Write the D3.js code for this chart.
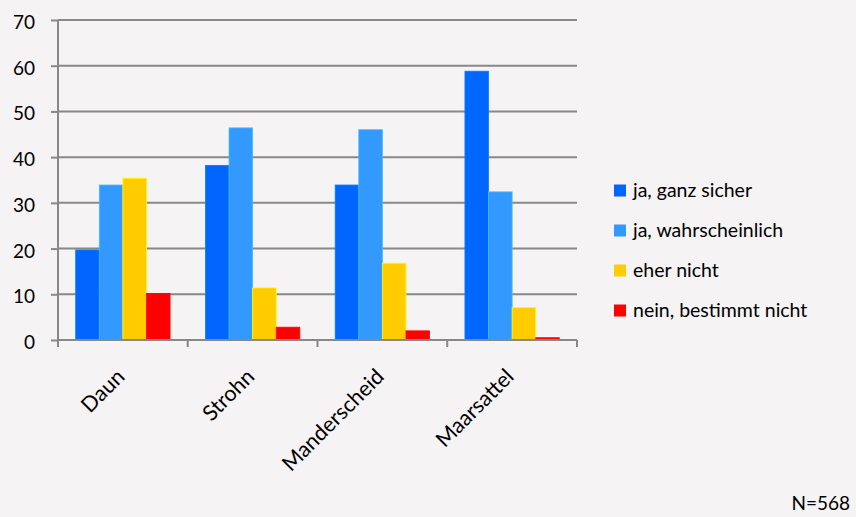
<!DOCTYPE html>
<html>
<head>
<meta charset="utf-8">
<script src="https://cdn.jsdelivr.net/npm/d3@7"></script>
<style>
html,body{margin:0;padding:0;background:#f5f3f4;}
svg{display:block;}
text{font-family:Lato,"Open Sans","DejaVu Sans",sans-serif;fill:#000;}
</style>
</head>
<body>
<svg id="chart" width="856" height="517"></svg>
<script>
const categories = ["Daun", "Strohn", "Manderscheid", "Maarsattel"];
const seriesNames = ["ja, ganz sicher", "ja, wahrscheinlich", "eher nicht", "nein, bestimmt nicht"];
const jaGanzSicher = [19.7, 38.2, 33.9, 58.8];
const jaWahrscheinlich = [33.9, 46.4, 46.0, 32.4];
const eherNicht = [35.4, 11.4, 16.8, 7.1];
const neinBestimmtNicht = [10.2, 2.8, 2.0, 0.5];
const yTicks = [0, 10, 20, 30, 40, 50, 60, 70];
const colors = ["#0066ff", "#3399ff", "#ffcc00", "#ff0000"];
const footnote = "N=568";

(function () {
const series = [jaGanzSicher, jaWahrscheinlich, eherNicht, neinBestimmtNicht];

const svg = d3.select("#chart");
const W = 856, H = 517;
svg.append("rect").attr("width", W).attr("height", H).attr("fill", "#f5f3f4");

const pLeft = 58, pRight = 577, pTop = 20, pBottom = 340;
const x = d3.scaleBand().domain(categories).range([pLeft, pRight]).paddingInner(0).paddingOuter(0);
const x1 = d3.scaleBand().domain(d3.range(series.length)).range([0, x.bandwidth()]).paddingInner(0).paddingOuter(0.75);
const y = d3.scaleLinear().domain([0, 70]).range([pBottom, pTop]);

const gridColor = "#888888";
svg.append("g").selectAll("line").data(yTicks.filter(d => d > 0)).join("line")
  .attr("x1", pLeft).attr("x2", pRight)
  .attr("y1", d => y(d)).attr("y2", d => y(d))
  .attr("stroke", gridColor).attr("stroke-width", 2);

const groups = svg.append("g").selectAll("g").data(categories).join("g")
  .attr("transform", c => `translate(${x(c)},0)`);
groups.selectAll("rect").data((c, i) => series.map((s, j) => ({ j, v: s[i] }))).join("rect")
  .attr("x", d => x1(d.j))
  .attr("width", x1.bandwidth())
  .attr("y", d => y(d.v))
  .attr("height", d => y(0) - y(d.v))
  .attr("fill", d => colors[d.j])
  .attr("stroke", d => d3.color(colors[d.j]).brighter(0.6))
  .attr("stroke-width", 0.8);

const yAxis = d3.axisLeft(y).tickValues(yTicks).tickSize(7).tickPadding(16);
const gy = svg.append("g").attr("transform", `translate(${pLeft},0)`).call(yAxis);
gy.select(".domain").remove();
gy.selectAll(".tick line").attr("stroke", gridColor).attr("stroke-width", 2);
gy.selectAll(".tick text").attr("font-size", 19).attr("fill", "#000").attr("dy", "0.45em");
svg.append("line").attr("x1", pLeft).attr("x2", pLeft).attr("y1", pTop).attr("y2", pBottom + 7)
  .attr("stroke", gridColor).attr("stroke-width", 2);

svg.append("line").attr("x1", pLeft).attr("x2", pRight).attr("y1", pBottom).attr("y2", pBottom)
  .attr("stroke", gridColor).attr("stroke-width", 2);
const bounds = categories.map(c => x(c)).concat([pRight]);
svg.append("g").selectAll("line").data(bounds).join("line")
  .attr("x1", d => d).attr("x2", d => d).attr("y1", pBottom).attr("y2", pBottom + 7)
  .attr("stroke", gridColor).attr("stroke-width", 2);

svg.append("g").selectAll("text").data(categories).join("text")
  .attr("transform", c => `translate(${x(c) + x.bandwidth() / 2 + 3},${pBottom + 38}) rotate(-45)`)
  .attr("text-anchor", "end")
  .attr("font-size", 21.5)
  .text(c => c);

const lg = svg.append("g").selectAll("g").data(seriesNames).join("g")
  .attr("transform", (d, i) => `translate(614,${190.5 + i * 40})`);
lg.append("rect").attr("x", 0).attr("y", -6).attr("width", 12).attr("height", 12)
  .attr("fill", (d, i) => colors[i]);
lg.append("text").attr("x", 19).attr("y", 6.5).attr("font-size", 19.5).text(d => d);

svg.append("text").attr("x", 850).attr("y", 510).attr("text-anchor", "end")
  .attr("font-size", 19).text(footnote);
})();
</script>
</body>
</html>
